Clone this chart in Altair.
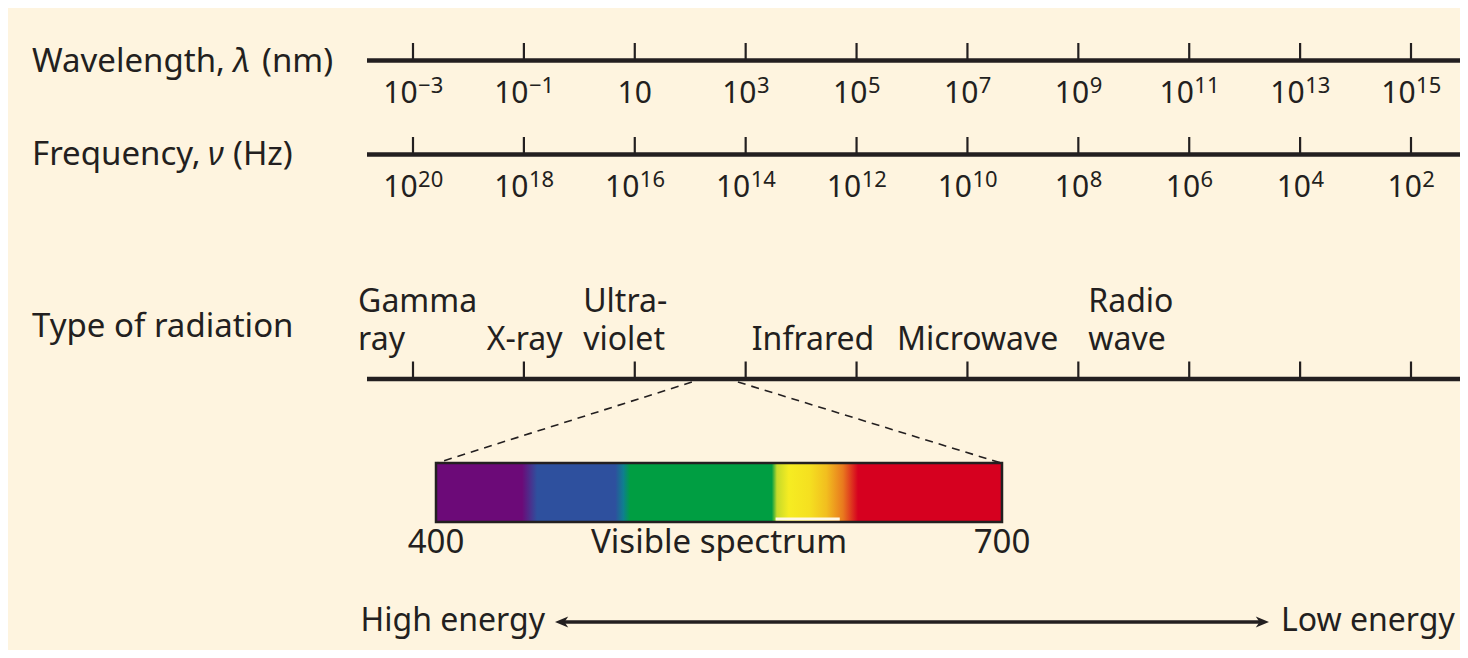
import altair as alt
import pandas as pd

# ---------------- data ----------------
WL_EXP = [-3, -1, 1, 3, 5, 7, 9, 11, 13, 15]          # wavelength, log10(nm)
FREQ_EXP = [20, 18, 16, 14, 12, 10, 8, 6, 4, 2]       # frequency, log10(Hz)
ROW_NAMES = ["Wavelength,", "Frequency,", "Type of radiation"]
ROW_SYMBOLS = ["λ", "ν"]
ROW_UNITS = ["(nm)", "(Hz)"]
RAD_TOP = ["Gamma", "", "Ultra-", "", "", "Radio"]
RAD_BOTTOM = ["ray", "X-ray", "violet", "Infrared", "Microwave", "wave"]
RAD_AT = [-3.99, -1.67, 0.07, 3.11, 5.73, 9.18]       # label anchors on the log axis
VIS_WINDOW = [2.03, 2.86]                             # visible band on the log axis
VIS_NM = [400, 700]
VIS_TITLE = "Visible spectrum"
VIS_TITLE_NM = 550
STOP_NM = [400, 445.6, 453.6, 495, 499.3, 503, 578, 580.7, 587, 598, 607, 615.7, 623.7, 700]
STOP_COLOR = ["#6C0A78", "#6C0A78", "#2E509E", "#2E509E", "#0E7F8F", "#009E42",
              "#009E42", "#C5DA2A", "#F6EC22", "#F5E020", "#F2BE1F", "#E9791E",
              "#D6001F", "#D6001F"]
WHITE_GAP_NM = [580, 614]
ENERGY = ["High energy", "Low energy"]


def sup_of(e):
    return "" if e == 1 else str(e).replace("-", "\u2212")


# ---------------- layout / style ----------------
W, H = 1452, 642
BG = "#FEF4DF"
INK = "#231F20"
FONT = "Noto Sans"
FS = 33
FS_RAD = 32
FS_ENERGY = 32
FS_TICK = 30
FS_SUP = 22
X_LOG = alt.Scale(domain=[-3, 15], range=[405, 1403])
X_NM = alt.Scale(domain=[400, 700], range=[428, 994])
AXIS_X0, AXIS_X1 = 359, 1452
Y_WL, Y_FR, Y_RAD = 52.5, 146.5, 371
TICK = 17.5

dummy = pd.DataFrame({"k": [0]})
ticks = pd.DataFrame({"wl": WL_EXP})
tick_labels = pd.DataFrame({
    "wl": WL_EXP + WL_EXP,
    "row": ["wl"] * len(WL_EXP) + ["fr"] * len(FREQ_EXP),
    "sup": [sup_of(e) for e in WL_EXP] + [sup_of(e) for e in FREQ_EXP],
})
tick_labels["base"] = "10"
tick_labels["n"] = tick_labels["sup"].str.len()
rad = pd.DataFrame({"at": RAD_AT, "top": RAD_TOP, "bottom": RAD_BOTTOM})
rows = pd.DataFrame({"t": ROW_NAMES, "i": [0, 1, 2]})
syms = pd.DataFrame({"t": ROW_SYMBOLS, "i": [0, 1]})
units = pd.DataFrame({"t": ROW_UNITS, "i": [0, 1]})
vis = pd.DataFrame({"a": [VIS_NM[0]], "b": [VIS_NM[1]]})
vis_labels = pd.DataFrame({"nm": VIS_NM + [VIS_TITLE_NM],
                           "t": [str(v) for v in VIS_NM] + [VIS_TITLE]})
gap = pd.DataFrame({"a": [WHITE_GAP_NM[0]], "b": [WHITE_GAP_NM[1]]})
zoom = pd.DataFrame({"at": VIS_WINDOW, "corner": ["l", "r"]})
energy = pd.DataFrame({"t": ENERGY, "i": [0, 1]})

txt = dict(font=FONT, color=INK)
xlog = alt.X("wl:Q", scale=X_LOG, axis=None)
layers = []

# axis base lines
for yy in (Y_WL, Y_FR, Y_RAD):
    layers.append(alt.Chart(dummy).mark_rule(color=INK, strokeWidth=4.5).encode(
        x=alt.value(AXIS_X0), x2=alt.value(AXIS_X1), y=alt.value(yy)))

# ticks on each row
for yy in (Y_WL, Y_FR, Y_RAD):
    layers.append(alt.Chart(ticks).mark_rule(color=INK, strokeWidth=2.2).encode(
        x=xlog, y=alt.value(yy - TICK), y2=alt.value(yy)))

# tick labels: "10" plus a raised exponent, centred as a whole on the tick
BASE_W = 2 * 0.572 * FS_TICK
SUP_CH = 0.572 * FS_SUP
for row, base_y in (("wl", 95), ("fr", 189)):
    for n in (0, 1, 2):
        sel = (alt.datum.row == row) & (alt.datum.n == n)
        if n == 0:
            layers.append(alt.Chart(tick_labels).transform_filter(sel).mark_text(
                fontSize=FS_TICK, align="center", baseline="alphabetic", **txt).encode(
                x=xlog, y=alt.value(base_y), text="base:N"))
            continue
        split = (BASE_W - n * SUP_CH) / 2
        layers.append(alt.Chart(tick_labels).transform_filter(sel).mark_text(
            fontSize=FS_TICK, align="right", baseline="alphabetic", dx=split,
            **txt).encode(x=xlog, y=alt.value(base_y), text="base:N"))
        layers.append(alt.Chart(tick_labels).transform_filter(sel).mark_text(
            fontSize=FS_SUP, align="left", baseline="alphabetic", dx=split + 0.5,
            **txt).encode(x=xlog, y=alt.value(base_y - 10), text="sup:N"))

# row titles (symbol in italics)
ROW_Y = (64, 157, 329)
SYM_X = (225, 200)
UNIT_X = (254, 225)
for i, yy in enumerate(ROW_Y):
    layers.append(alt.Chart(rows).transform_filter(alt.datum.i == i).mark_text(
        fontSize=FS, align="left", baseline="alphabetic", **txt).encode(
        x=alt.value(24), y=alt.value(yy), text="t:N"))
for i in (0, 1):
    layers.append(alt.Chart(syms).transform_filter(alt.datum.i == i).mark_text(
        fontSize=FS, align="left", baseline="alphabetic", fontStyle="italic",
        **txt).encode(x=alt.value(SYM_X[i]), y=alt.value(ROW_Y[i]), text="t:N"))
    layers.append(alt.Chart(units).transform_filter(alt.datum.i == i).mark_text(
        fontSize=FS, align="left", baseline="alphabetic", **txt).encode(
        x=alt.value(UNIT_X[i]), y=alt.value(ROW_Y[i]), text="t:N"))

# radiation type labels
layers.append(alt.Chart(rad).mark_text(fontSize=FS_RAD, align="left",
                                       baseline="alphabetic", **txt).encode(
    x=alt.X("at:Q", scale=X_LOG, axis=None), y=alt.value(304), text="top:N"))
layers.append(alt.Chart(rad).mark_text(fontSize=FS_RAD, align="left",
                                       baseline="alphabetic", **txt).encode(
    x=alt.X("at:Q", scale=X_LOG, axis=None), y=alt.value(342), text="bottom:N"))

# dashed zoom lines
for corner, x_end in (("l", 429), ("r", 993)):
    layers.append(alt.Chart(zoom).transform_filter(alt.datum.corner == corner).mark_rule(
        color=INK, strokeWidth=1.6, strokeDash=[8, 6]).encode(
        x=alt.X("at:Q", scale=X_LOG, axis=None), x2=alt.value(x_end),
        y=alt.value(Y_RAD + 3), y2=alt.value(455)))

# visible spectrum bar
grad = alt.Gradient(
    gradient="linear", x1=0, x2=1, y1=0, y2=0,
    stops=[alt.GradientStop(offset=(n - VIS_NM[0]) / (VIS_NM[1] - VIS_NM[0]), color=c)
           for n, c in zip(STOP_NM, STOP_COLOR)])
layers.append(alt.Chart(vis).mark_rect(fill=grad, stroke=INK, strokeWidth=2.5).encode(
    x=alt.X("a:Q", scale=X_NM, axis=None), x2="b:Q",
    y=alt.value(455), y2=alt.value(514)))
layers.append(alt.Chart(gap).mark_rect(fill="#FFF8E6").encode(
    x=alt.X("a:Q", scale=X_NM, axis=None), x2="b:Q",
    y=alt.value(509.5), y2=alt.value(512.5)))
layers.append(alt.Chart(vis_labels).mark_text(fontSize=FS, align="center",
                                              baseline="alphabetic", **txt).encode(
    x=alt.X("nm:Q", scale=X_NM, axis=None), y=alt.value(545), text="t:N"))

# energy arrow
layers.append(alt.Chart(energy).transform_filter(alt.datum.i == 0).mark_text(
    fontSize=FS_ENERGY, align="right", baseline="alphabetic", **txt).encode(
    x=alt.value(537), y=alt.value(623), text="t:N"))
layers.append(alt.Chart(energy).transform_filter(alt.datum.i == 1).mark_text(
    fontSize=FS_ENERGY, align="left", baseline="alphabetic", **txt).encode(
    x=alt.value(1273), y=alt.value(623), text="t:N"))
layers.append(alt.Chart(dummy).mark_rule(color=INK, strokeWidth=3.5).encode(
    x=alt.value(552), x2=alt.value(1256), y=alt.value(614)))
layers.append(alt.Chart(dummy).mark_point(
    shape="M0,0 L1,-0.42 L0.72,0 L1,0.42 Z", filled=True, opacity=1,
    color=INK, size=700).encode(x=alt.value(547), y=alt.value(614)))
layers.append(alt.Chart(dummy).mark_point(
    shape="M0,0 L-1,-0.42 L-0.72,0 L-1,0.42 Z", filled=True, opacity=1,
    color=INK, size=700).encode(x=alt.value(1261), y=alt.value(614)))

chart = alt.layer(*layers).resolve_scale(x="independent").properties(
    width=W, height=H, padding=0, background=BG,
    autosize=alt.AutoSizeParams(type="none"),
).configure_view(stroke=None)

chart.save("out.html", embed_options={"renderer": "svg", "actions": False})
